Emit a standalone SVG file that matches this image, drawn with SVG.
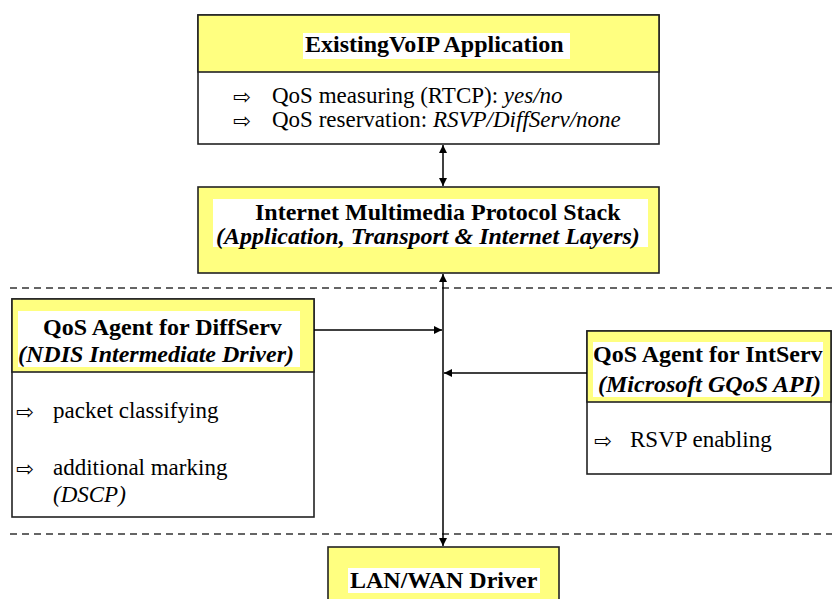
<svg xmlns="http://www.w3.org/2000/svg" width="832" height="599" viewBox="0 0 832 599">
<defs>
<marker id="ah" viewBox="0 0 10 10" refX="10" refY="5" markerWidth="8" markerHeight="8" markerUnits="userSpaceOnUse" orient="auto-start-reverse">
<path d="M0,0 L10,5 L0,10 z" fill="#000"/>
</marker>
<style>
.box{stroke:#222;stroke-width:1.6}
.yel{fill:#ffff80}
.wht{fill:#ffffff}
.hl{fill:#ffffff;stroke:none}
.t{font-family:'Liberation Serif','Times New Roman',serif;fill:#000}
.b{font-weight:bold;font-size:24px}
.bi{font-weight:bold;font-style:italic;font-size:24px}
.r{font-size:23px}
.i{font-style:italic}
.sym{font-family:'DejaVu Sans',sans-serif;font-size:21px;fill:#000}
.con{stroke:#000;stroke-width:1.5;fill:none}
.dash{stroke:#333;stroke-width:1.5;stroke-dasharray:7 5;fill:none}
</style>
</defs>
<rect width="832" height="599" fill="#fff"/>

<g id="separators">
<line class="dash" x1="10" y1="288" x2="832" y2="288"/>
<line class="dash" x1="10" y1="534" x2="832" y2="534"/>
</g>

<g id="node-voip">
<rect class="box wht" x="198" y="15" width="461" height="129"/>
<rect class="box yel" x="198" y="15" width="461" height="57"/>
<rect class="hl" x="303" y="33" width="267" height="26"/>
<text class="t b" x="305" y="52">ExistingVoIP Application</text>
<text class="sym" x="233" y="104">⇨</text>
<text class="t r" x="272" y="103">QoS measuring (RTCP): <tspan class="i">yes/no</tspan></text>
<text class="sym" x="233" y="128">⇨</text>
<text class="t r" x="272" y="127">QoS reservation: <tspan class="i">RSVP/DiffServ/none</tspan></text>
</g>

<g id="node-stack">
<rect class="box yel" x="198" y="187" width="461" height="86"/>
<rect class="hl" x="213" y="199" width="435" height="48"/>
<text class="t b" x="255" y="220">Internet Multimedia Protocol Stack</text>
<text class="t bi" x="216" y="244">(Application, Transport &amp; Internet Layers)</text>
</g>

<g id="node-diffserv">
<rect class="box wht" x="12" y="299" width="302" height="218"/>
<rect class="box yel" x="12" y="299" width="302" height="73"/>
<rect class="hl" x="18" y="311" width="282" height="56"/>
<text class="t b" x="43" y="335">QoS Agent for DiffServ</text>
<text class="t bi" x="18" y="362">(NDIS Intermediate Driver)</text>
<text class="sym" x="16" y="419">⇨</text>
<text class="t r" x="53" y="418">packet classifying</text>
<text class="sym" x="16" y="476">⇨</text>
<text class="t r" x="53" y="475">additional marking</text>
<text class="t r i" x="53" y="502">(DSCP)</text>
</g>

<g id="node-intserv">
<rect class="box wht" x="587" y="331" width="244" height="143"/>
<rect class="box yel" x="587" y="331" width="244" height="71"/>
<rect class="hl" x="593" y="342" width="230" height="55"/>
<text class="t b" x="593" y="362">QoS Agent for IntServ</text>
<text class="t bi" x="598" y="392">(Microsoft GQoS API)</text>
<text class="sym" x="594" y="448">⇨</text>
<text class="t r" x="630" y="447">RSVP enabling</text>
</g>

<g id="node-lan">
<rect class="box yel" x="328" y="547" width="231" height="60"/>
<rect class="hl" x="348" y="568" width="192" height="25"/>
<text class="t b" x="350" y="588">LAN/WAN Driver</text>
</g>

<g id="connectors">
<line class="con" x1="443" y1="145" x2="443" y2="186" marker-start="url(#ah)" marker-end="url(#ah)"/>
<line class="con" x1="443" y1="274" x2="443" y2="546" marker-start="url(#ah)" marker-end="url(#ah)"/>
<line class="con" x1="314" y1="330" x2="442" y2="330" marker-end="url(#ah)"/>
<line class="con" x1="587" y1="373" x2="444" y2="373" marker-end="url(#ah)"/>
</g>
</svg>
